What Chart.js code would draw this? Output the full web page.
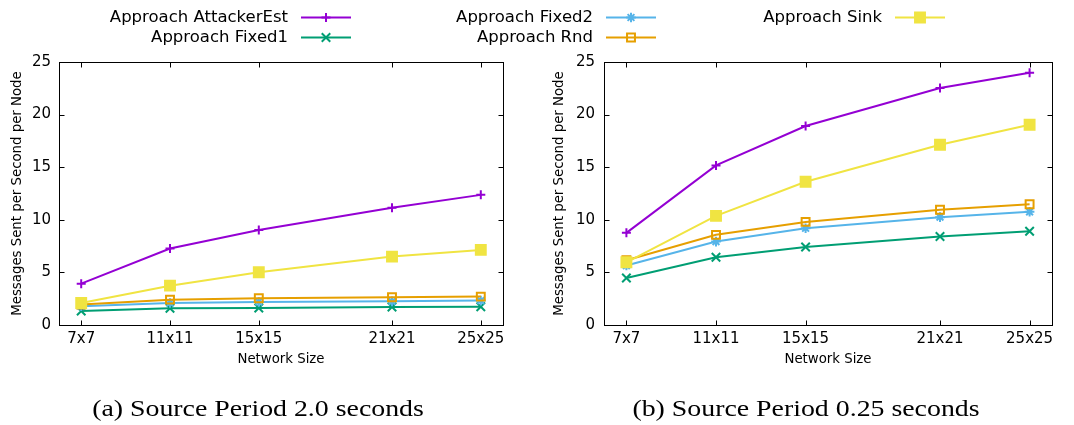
<!DOCTYPE html>
<html>
<head>
<meta charset="utf-8">
<script src="https://cdn.jsdelivr.net/npm/chart.js@4/dist/chart.umd.min.js"></script>
<style>
  html, body { margin: 0; padding: 0; background: #fff; }
  #wrap { position: relative; width: 1074px; height: 425px; overflow: hidden; }
  #wrap canvas { position: absolute; left: 0; top: 0; }
  .cap { position: absolute; top: 396px; font-family: "Liberation Serif", serif; font-size: 24px;
         line-height: 1; color: #000; white-space: nowrap;
         transform: translateX(-50%) scaleX(1.16); transform-origin: 50% 50%; }
</style>
</head>
<body>
<div id="wrap">
  <canvas id="c1" width="1074" height="425"></canvas>
  <canvas id="c2" width="1074" height="425"></canvas>
  <div class="cap" style="left:258px">(a) Source Period 2.0 seconds</div>
  <div class="cap" style="left:806px">(b) Source Period 0.25 seconds</div>
</div>
<script>
// Network sizes (grid side length) and their tick labels
const sizes = [7, 11, 15, 21, 25];
const sizeLabels = ['7x7', '11x11', '15x15', '21x21', '25x25'];
const yTicks = [0, 5, 10, 15, 20, 25];

const seriesNames = ['Approach AttackerEst', 'Approach Fixed1', 'Approach Fixed2', 'Approach Rnd', 'Approach Sink'];

// (a) Source period 2.0 seconds
const p2_attackerEst = [3.93, 7.27, 9.04, 11.14, 12.37];
const p2_fixed1      = [1.33, 1.59, 1.62, 1.71, 1.74];
const p2_fixed2      = [1.78, 2.09, 2.19, 2.25, 2.32];
const p2_rnd         = [1.94, 2.41, 2.54, 2.63, 2.70];
const p2_sink        = [2.09, 3.74, 5.01, 6.50, 7.14];

// (b) Source period 0.25 seconds
const p025_attackerEst = [8.76, 15.17, 18.91, 22.53, 23.98];
const p025_fixed1      = [4.47, 6.44, 7.42, 8.41, 8.91];
const p025_fixed2      = [5.65, 7.93, 9.20, 10.25, 10.76];
const p025_rnd         = [6.15, 8.57, 9.80, 10.95, 11.48];
const p025_sink        = [5.96, 10.37, 13.61, 17.13, 19.04];

const styles = [
  { color: '#9400D3', pointStyle: 'cross',    radius: 4.5, fill: '#9400D3' },
  { color: '#009E73', pointStyle: 'crossRot', radius: 6,   fill: '#009E73' },
  { color: '#56B4E9', pointStyle: 'star',     radius: 4.8, fill: '#56B4E9' },
  { color: '#E69F00', pointStyle: 'rect',     radius: 5.6, fill: 'rgba(0,0,0,0)' },
  { color: '#F0E442', pointStyle: 'rect',     radius: 7,   fill: '#F0E442' }
];

const SANS = 'DejaVu Sans';

function makeDatasets(seriesList) {
  return seriesList.map((vals, i) => ({
    label: seriesNames[i],
    data: vals.map((v, k) => ({ x: sizes[k], y: v })),
    borderColor: styles[i].color,
    backgroundColor: styles[i].color,
    borderWidth: 2,
    tension: 0,
    pointStyle: styles[i].pointStyle,
    pointRadius: styles[i].radius,
    pointBorderWidth: 2,
    pointBorderColor: styles[i].color,
    pointBackgroundColor: styles[i].fill,
    order: seriesList.length - i
  }));
}

// Closed box border with inward tick marks on all four sides
const framePlugin = {
  id: 'frame',
  afterDraw(chart) {
    const { ctx, chartArea: a, scales } = chart;
    const L = Math.round(a.left) + 0.5, R = Math.round(a.right) + 0.5;
    const T = Math.round(a.top) + 0.5, B = Math.round(a.bottom) + 0.5;
    const tl = 5;
    ctx.save();
    ctx.strokeStyle = '#000';
    ctx.lineWidth = 1;
    ctx.beginPath();
    scales.y.ticks.forEach(t => {
      const y = Math.round(scales.y.getPixelForValue(t.value)) + 0.5;
      ctx.moveTo(L, y); ctx.lineTo(L + tl, y);
      ctx.moveTo(R, y); ctx.lineTo(R - tl, y);
    });
    scales.x.ticks.forEach(t => {
      const x = Math.round(scales.x.getPixelForValue(t.value)) + 0.5;
      ctx.moveTo(x, B); ctx.lineTo(x, B - tl);
      ctx.moveTo(x, T); ctx.lineTo(x, T + tl);
    });
    ctx.stroke();
    ctx.strokeRect(L, T, R - L, B - T);
    ctx.restore();
  }
};

// Shared key across the top of the figure
const keyPlugin = {
  id: 'key',
  afterDraw(chart) {
    const ctx = chart.ctx;
    const textRight = [288, 593, 882];
    const rowsY = [17.5, 37.5];
    const slots = [[0, 0], [0, 1], [1, 0], [1, 1], [2, 0]];
    ctx.save();
    ctx.font = '16.5px "' + SANS + '"';
    ctx.textAlign = 'right';
    ctx.textBaseline = 'middle';
    slots.forEach(([c, r], i) => {
      const x0 = textRight[c], y = rowsY[r];
      ctx.fillStyle = '#000';
      ctx.fillText(seriesNames[i], x0, y);
      const s = styles[i];
      const sx = x0 + 13, ex = sx + 50, mx = (sx + ex) / 2;
      ctx.strokeStyle = s.color;
      ctx.lineWidth = 2;
      ctx.beginPath();
      ctx.moveTo(sx, y); ctx.lineTo(ex, y);
      ctx.stroke();
      ctx.fillStyle = s.fill;
      Chart.helpers.drawPoint(ctx, { pointStyle: s.pointStyle, radius: s.radius, borderWidth: 2, rotation: 0 }, mx, y);
    });
    ctx.restore();
  }
};

function makeChart(id, seriesList, pad, yWidth, yTitlePad, yTickPad, extraPlugins) {
  return new Chart(document.getElementById(id), {
    type: 'line',
    data: { datasets: makeDatasets(seriesList) },
    options: {
      responsive: false,
      animation: false,
      devicePixelRatio: 1,
      layout: { padding: pad },
      plugins: { legend: { display: false }, tooltip: { enabled: false } },
      scales: {
        x: {
          type: 'linear', min: 6, max: 26,
          afterBuildTicks: s => { s.ticks = sizes.map(v => ({ value: v })); },
          afterFit: s => { s.height = 45; },
          ticks: {
            autoSkip: false, maxRotation: 0, padding: 5, color: '#000',
            font: { family: SANS, size: 15 },
            callback: (v, idx) => sizeLabels[idx]
          },
          grid: { drawOnChartArea: false, drawTicks: false },
          border: { display: false },
          title: { display: true, text: 'Network Size', color: '#000',
                   font: { family: SANS, size: 13.3 }, padding: { top: 0, bottom: 2.5 } }
        },
        y: {
          min: 0, max: 25,
          afterBuildTicks: s => { s.ticks = yTicks.map(v => ({ value: v })); },
          afterFit: s => { s.width = yWidth; },
          ticks: { padding: yTickPad, color: '#000', font: { family: SANS, size: 15 } },
          grid: { drawOnChartArea: false, drawTicks: false },
          border: { display: false },
          title: { display: true, text: 'Messages Sent per Second per Node', color: '#000',
                   font: { family: SANS, size: 13.3 }, padding: { top: yTitlePad, bottom: 0 } }
        }
      }
    },
    plugins: [framePlugin].concat(extraPlugins)
  });
}

makeChart('c1', [p2_attackerEst, p2_fixed1, p2_fixed2, p2_rnd, p2_sink],
  { left: 0, right: 571, top: 62, bottom: 55 }, 59, 9.5, 8, [keyPlugin]);
makeChart('c2', [p025_attackerEst, p025_fixed1, p025_fixed2, p025_rnd, p025_sink],
  { left: 540, right: 22, top: 62, bottom: 55 }, 64, 12, 9, []);
</script>
</body>
</html>
